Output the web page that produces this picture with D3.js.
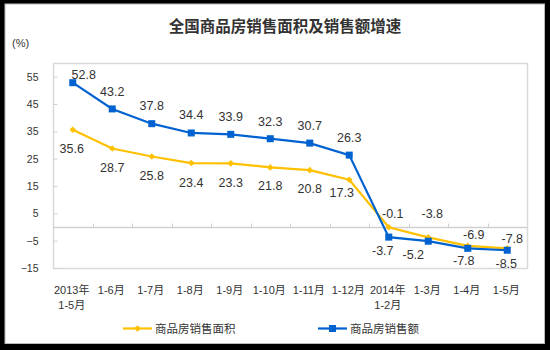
<!DOCTYPE html>
<html><head><meta charset="utf-8">
<script src="https://cdn.jsdelivr.net/npm/d3@7/dist/d3.min.js"></script>
<style>
body{margin:0;padding:0;background:#000;}
svg{display:block;}
text{font-family:"Liberation Sans",Arial,"Noto Sans CJK SC",sans-serif;}
</style></head>
<body>
<svg id="chart" width="550" height="350"></svg>
<script>
const title = "全国商品房销售面积及销售额增速";
const unitLabel = "(%)";
const categories = [["2013年","1-5月"],["1-6月"],["1-7月"],["1-8月"],["1-9月"],["1-10月"],["1-11月"],["1-12月"],["2014年","1-2月"],["1-3月"],["1-4月"],["1-5月"]];
const seriesNames = ["商品房销售面积","商品房销售额"];
const areaGrowth = [35.6, 28.7, 25.8, 23.4, 23.3, 21.8, 20.8, 17.3, -0.1, -3.8, -6.9, -7.8];
const salesGrowth = [52.8, 43.2, 37.8, 34.4, 33.9, 32.3, 30.7, 26.3, -3.7, -5.2, -7.8, -8.5];
const yTicks = [-15, -5, 5, 15, 25, 35, 45, 55];

// label nudges (dx, dy from point) — layout only
const areaNudge = [[-1,23],[0,23],[0,23.5],[0,23.5],[0,24],[0,23],[0,23],[-7.5,17],[4,-9],[4,-19],[6,-7],[5,-5]];
const salesNudge = [[11,-4],[0,-13],[0,-14],[0,-14],[0,-13],[0,-13],[0,-13],[0,-13],[-6,18],[-15,18],[-4,17],[-1,18]];

const svg = d3.select("#chart");
// frame
svg.append("rect").attr("x",0).attr("y",0).attr("width",550).attr("height",350).attr("fill","#000");
svg.append("rect").attr("x",5).attr("y",4).attr("width",539.5).attr("height",339.5).attr("fill","#fff").attr("stroke","#bbb").attr("stroke-width",1);

const L = 53, R = 527, T = 63, B = 268;
const x = d3.scaleBand().domain(d3.range(categories.length)).range([L, R]);
const y = d3.scaleLinear().domain([-15, 60]).range([B, T]);
const cx = i => x(i) + x.bandwidth()/2;

// plot border
svg.append("rect").attr("x",L+0.5).attr("y",T+0.5).attr("width",R-L).attr("height",B-T)
  .attr("fill","none").attr("stroke","#d9d9d9").attr("stroke-width",1.5);

// y axis
const yAxis = d3.axisLeft(y).tickValues(yTicks).tickSize(4).tickPadding(11).tickFormat(d3.format("d"));
const gy = svg.append("g").attr("transform",`translate(${L+0.5},0)`).call(yAxis);
gy.select(".domain").remove();
gy.selectAll(".tick line").attr("stroke","#d0d0d0").attr("x1",0).attr("x2",4);
gy.selectAll(".tick text").attr("fill","#333").attr("font-size","10.5px");

// zero line with category ticks
const y0 = Math.round(y(0)) + 0.5;
svg.append("line").attr("x1",L).attr("x2",R).attr("y1",y0).attr("y2",y0).attr("stroke","#d0d0d0").attr("stroke-width",1.5);
svg.selectAll(".ctick").data(d3.range(1, categories.length)).enter().append("line")
  .attr("x1",d=>Math.round(x(d))+0.5).attr("x2",d=>Math.round(x(d))+0.5)
  .attr("y1",y0).attr("y2",y0-4).attr("stroke","#d0d0d0");

// x labels
const xl = svg.selectAll(".xl").data(categories).enter().append("text")
  .attr("text-anchor","middle").attr("font-size","11px").attr("fill","#333");
xl.each(function(lines,i){
  const t = d3.select(this);
  lines.forEach((s,k)=>{
    t.append("tspan").attr("x",cx(i)-1).attr("y",294 + k*15).text(s);
  });
});

// title
svg.append("text").attr("x",285).attr("y",32).attr("text-anchor","middle")
  .attr("font-size","15.5px").attr("font-weight","bold").attr("fill","#333")
  .attr("font-family","'Noto Sans CJK SC',sans-serif").text(title);
svg.append("text").attr("x",12).attr("y",47).attr("font-size","11px").attr("fill","#333").text(unitLabel);

const yellow = "#FFC000", blue = "#0062D0";
const line = d3.line().x((d,i)=>cx(i)).y(d=>y(d));

// area series
svg.append("path").datum(areaGrowth).attr("d",line).attr("fill","none").attr("stroke",yellow).attr("stroke-width",2.2);
svg.selectAll(".dm").data(areaGrowth).enter().append("path")
  .attr("d",d3.symbol().type(d3.symbolDiamond2).size(28))
  .attr("transform",(d,i)=>`translate(${cx(i)},${y(d)})`).attr("fill",yellow);
// sales series
svg.append("path").datum(salesGrowth).attr("d",line).attr("fill","none").attr("stroke",blue).attr("stroke-width",2.2);
svg.selectAll(".sq").data(salesGrowth).enter().append("rect")
  .attr("x",(d,i)=>cx(i)-3.5).attr("y",d=>y(d)-3.5).attr("width",7).attr("height",7).attr("fill",blue);

// value labels
svg.selectAll(".la").data(areaGrowth).enter().append("text")
  .attr("x",(d,i)=>cx(i)+areaNudge[i][0]).attr("y",(d,i)=>y(d)+areaNudge[i][1])
  .attr("text-anchor","middle").attr("font-size","12.5px").attr("fill","#333").text(d=>d.toFixed(1));
svg.selectAll(".ls").data(salesGrowth).enter().append("text")
  .attr("x",(d,i)=>cx(i)+salesNudge[i][0]).attr("y",(d,i)=>y(d)+salesNudge[i][1])
  .attr("text-anchor","middle").attr("font-size","12.5px").attr("fill","#333").text(d=>d.toFixed(1));

// legend
const legY = 328.5;
const leg = [{name:seriesNames[0],color:yellow,x:123,shape:"diamond"},{name:seriesNames[1],color:blue,x:318,shape:"square"}];
leg.forEach(l=>{
  svg.append("line").attr("x1",l.x).attr("x2",l.x+29).attr("y1",legY).attr("y2",legY).attr("stroke",l.color).attr("stroke-width",2.2);
  if(l.shape==="diamond"){
    svg.append("path").attr("d",d3.symbol().type(d3.symbolDiamond2).size(28)).attr("transform",`translate(${l.x+14.5},${legY})`).attr("fill",l.color);
  } else {
    svg.append("rect").attr("x",l.x+11).attr("y",legY-3.5).attr("width",7).attr("height",7).attr("fill",l.color);
  }
  svg.append("text").attr("x",l.x+32).attr("y",legY+4).attr("font-size","11.5px").attr("fill","#333")
    .attr("font-family","'Noto Sans CJK SC',sans-serif").text(l.name);
});
</script>
</body></html>
